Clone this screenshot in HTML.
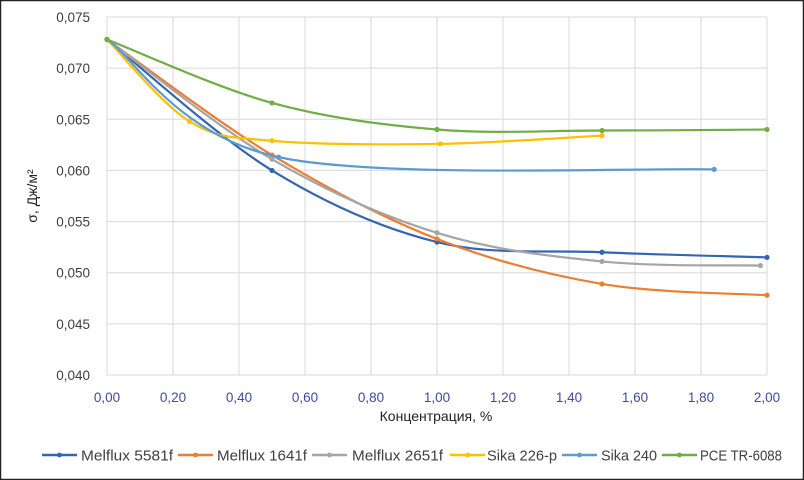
<!DOCTYPE html>
<html><head><meta charset="utf-8"><style>
body{margin:0;background:#fff}
svg{display:block;font-family:"Liberation Sans",sans-serif}
</style></head><body>
<svg id="c" width="804" height="480" viewBox="0 0 804 480">
<rect x="0.5" y="0.5" width="803" height="479" fill="#fff" stroke="#222" stroke-width="1.5"/>
<g id="grid"></g><g id="series"></g><g id="ticks"></g>
<text x="436" y="421" font-size="14" fill="#222" text-anchor="middle">Концентрация, %</text>
<text transform="translate(37,196) rotate(-90)" font-size="14" fill="#222" text-anchor="middle">σ, Дж/м²</text>
<g id="legend"></g>
</svg>
<script>
const xTicks=[0,0.2,0.4,0.6,0.8,1.0,1.2,1.4,1.6,1.8,2.0];
const yTicks=[0.040,0.045,0.050,0.055,0.060,0.065,0.070,0.075];
const names=["Melflux 5581f","Melflux 1641f","Melflux 2651f","Sika 226-p","Sika 240","PCE TR-6088"];
const colors=["#3465B0","#ED7D31","#A5A5A5","#FFC000","#5B9BD5","#70AD47"];
const x5581=[0,0.5,1.0,1.5,2.0], y5581=[0.0728,0.0600,0.0530,0.0520,0.0515];
const x1641=[0,0.5,1.0,1.5,2.0], y1641=[0.0728,0.0615,0.0533,0.0489,0.0478];
const x2651=[0,0.5,1.0,1.5,1.98], y2651=[0.0728,0.0611,0.0539,0.0511,0.0507];
const x226=[0,0.25,0.5,1.01,1.5], y226=[0.0728,0.0648,0.0629,0.0626,0.0634];
const x240=[0,0.52,1.84], y240=[0.0728,0.0613,0.0601];
const xPCE=[0,0.5,1.0,1.5,2.0], yPCE=[0.0728,0.0666,0.0640,0.0639,0.0640];
const xs=[x5581,x1641,x2651,x226,x240,xPCE], ys=[y5581,y1641,y2651,y226,y240,yPCE];
const X0=107,X1=767,Y0=375,Y1=17;
const sx=v=>X0+(v-0)/(2-0)*(X1-X0);
const sy=v=>Y0-(v-0.040)/(0.075-0.040)*(Y0-Y1);
const NS="http://www.w3.org/2000/svg";
function mk(t,a,p){const e=document.createElementNS(NS,t);for(const k in a)e.setAttribute(k,a[k]);p.appendChild(e);return e;}
const grid=document.getElementById('grid'),tk=document.getElementById('ticks');
xTicks.forEach(v=>{
 const l=mk('line',{x1:sx(v),x2:sx(v),y1:Y1,y2:Y0,stroke:'#d9d9d9','stroke-width':1},grid);
 
 
 const t=mk('text',{x:sx(v),y:Y0+27,'font-size':13.5,fill:'#3F4A9A','text-anchor':'middle'},tk);
 t.textContent=v.toFixed(2).replace('.',',');
 
 
});
yTicks.forEach(v=>{
 const l=mk('line',{x1:X0,x2:X1,y1:sy(v),y2:sy(v),stroke:'#d9d9d9','stroke-width':1},grid);
 
 
 const t=mk('text',{x:X0-17,y:sy(v)+5,'font-size':13.5,fill:'#404040','text-anchor':'end'},tk);
 t.textContent=v.toFixed(3).replace('.',',');
 
 
});
function smooth(p){let d=`M${p[0][0]},${p[0][1]}`;for(let i=0;i<p.length-1;i++){const a=p[i-1]||p[i],b=p[i],c=p[i+1],e=p[i+2]||c;const t=1/6;
d+=` C${b[0]+(c[0]-a[0])*t},${b[1]+(c[1]-a[1])*t} ${c[0]-(e[0]-b[0])*t},${c[1]-(e[1]-b[1])*t} ${c[0]},${c[1]}`;}return d;}
const sg=document.getElementById('series');
xs.forEach((xa,i)=>{
 const g=mk('g',{},sg);
 
 
 const pts=xa.map((x,j)=>[sx(x),sy(ys[i][j])]);
 mk('path',{d:smooth(pts),fill:'none',stroke:colors[i],'stroke-width':2.2},g);
 pts.forEach(p=>{const m=mk('circle',{cx:p[0],cy:p[1],r:2.6,fill:colors[i]},g);
  
  });
});
const lg=document.getElementById('legend');
const legLine=[42,178,312,450,562,662];
const legText=[[81,92],[217,90],[352,91],[487,70],[601,56],[700,82]];
names.forEach((n,i)=>{
 const g=mk('g',{},lg);
 
 
 mk('line',{x1:legLine[i],x2:legLine[i]+35,y1:455,y2:455,stroke:colors[i],'stroke-width':2.5},g);
 mk('circle',{cx:legLine[i]+17.5,cy:455,r:2.4,fill:colors[i]},g);
 const t=mk('text',{x:legText[i][0],y:460.5,'font-size':15,fill:'#404040',textLength:legText[i][1],lengthAdjust:'spacingAndGlyphs'},g);
 t.textContent=n;
});
</script>
</body></html>
